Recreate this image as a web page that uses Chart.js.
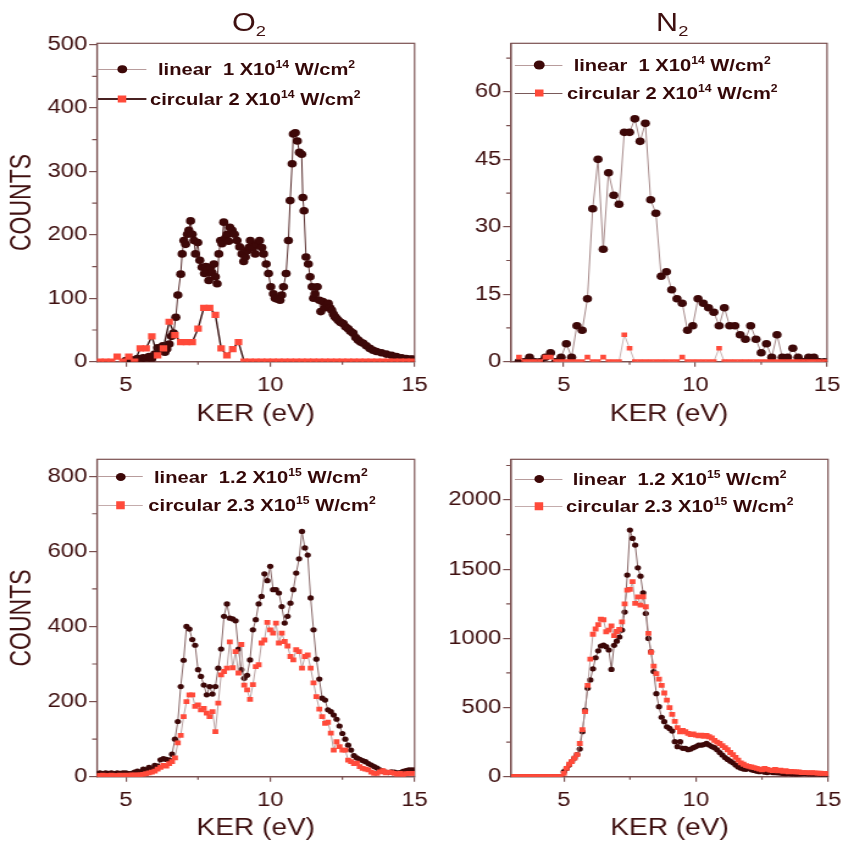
<!DOCTYPE html>
<html>
<head>
<meta charset="utf-8">
<script src="https://cdn.jsdelivr.net/npm/chart.js@4.4.1/dist/chart.umd.min.js"></script>
<style>
  html, body { margin: 0; padding: 0; background: #fff; }
  body { width: 844px; height: 846px; overflow: hidden; position: relative; font-family: "Liberation Sans", Arial, sans-serif; }
  /* the original figure is stretched sideways, so the whole page is drawn narrow and scaled */
  #fig { position: absolute; left: 0; top: 0; width: 692px; height: 846px; transform: scaleX(1.22); transform-origin: 0 0; }
  .panel { position: absolute; }
  .panel canvas { display: block; }
  .ttl { position: absolute; font-size: 25px; line-height: 1; color: #3f1010; transform: translate(-50%, -50%); white-space: nowrap; }
  .ttl sub { font-size: 15px; position: relative; top: 5px; vertical-align: baseline; }
  .sym { position: absolute; height: 0; }
  .mk { position: absolute; left: 50%; top: 50%; transform: translate(-50%, -50%); }
  .lt { position: absolute; font-weight: bold; font-size: 16.5px; line-height: 1; color: #340808; transform: translateY(-50%); white-space: nowrap; }
  .lt sup { font-size: 10px; position: relative; top: -7px; vertical-align: baseline; }
</style>
</head>
<body>
<div id="fig">
  <div class="panel" style="left:0;top:0"><canvas id="c1" width="360" height="430"></canvas></div>
  <div class="panel" style="left:346px;top:0"><canvas id="c2" width="346" height="430"></canvas></div>
  <div class="panel" style="left:0;top:430px"><canvas id="c3" width="360" height="416"></canvas></div>
  <div class="panel" style="left:346px;top:430px"><canvas id="c4" width="346" height="416"></canvas></div>
  <div class="ttl" style="left:204px;top:22px">O<sub>2</sub></div>
  <div class="ttl" style="left:551px;top:22px">N<sub>2</sub></div>
</div>
<script>
// ---------- data ----------
// O2, low intensity
const o2LinKer = [5.0,5.1,5.2,5.3,5.4,5.5,5.6,5.7,5.8,5.9,6.0,6.1,6.2,6.28,6.35,6.42,6.5,6.58,6.65,6.73,
  6.8,6.9,6.95,7.01,7.07,7.13,7.18,7.24,7.3,7.36,7.41,7.49,7.56,7.64,7.72,7.77,7.82,7.87,7.93,7.99,
  8.05,8.1,8.16,8.22,8.28,8.33,8.39,8.45,8.51,8.56,8.6,8.68,8.76,8.85,8.94,9.02,9.08,9.14,9.2,9.26,
  9.31,9.4,9.48,9.54,9.63,9.71,9.77,9.86,9.94,10.02,10.11,10.17,10.23,10.3,10.34,10.4,10.46,10.55,10.63,10.69,
  10.76,10.8,10.87,10.94,11.01,11.09,11.13,11.17,11.24,11.32,11.38,11.45,11.5,11.55,11.63,11.7,11.75,11.82,11.9,11.96,
  12.01,12.07,12.13,12.19,12.24,12.3,12.36,12.44,12.53,12.61,12.7,12.78,12.87,12.96,13.05,13.13,13.22,13.33,13.45,13.56,
  13.68,13.85,14.02,14.2,14.37,14.55,14.71,14.85,14.94];
const o2LinCounts = [2,0,3,2,5,3,6,4,8,5,12,22,18,25,15,20,28,40,45,70,
  105,138,170,191,185,201,207,222,201,191,170,188,160,149,139,150,144,128,149,140,
  154,134,123,170,191,186,220,195,201,190,212,207,201,191,181,170,158,165,175,180,
  191,180,170,185,191,180,170,154,139,118,107,100,99,100,97,105,118,139,191,254,
  312,359,361,348,330,327,259,238,165,154,134,118,100,107,118,97,79,95,85,90,
  92,85,81,75,71,68,65,62,60,55,52,48,45,38,34,31,29,25,21,18,
  16,14,12,10,8,6,5,4,4];
const o2CircKer = [4.1,4.3,4.5,4.7,4.9,5.1,5.3,5.5,5.7,5.9,6.1,6.3,6.5,6.7,6.9,7.1,7.3,7.5,7.7,7.9,
  8.1,8.3,8.5,8.7,8.9,9.1,9.3,9.5,9.7,9.9,10.1,10.3,10.5,10.7,10.9,11.1,11.3,11.5,11.7,11.9,
  12.1,12.3,12.5,12.7,12.9,13.1,13.3,13.5,13.7,13.9,14.1,14.3,14.5,14.7,14.9];
const o2CircCounts = [0,0,0,8,0,8,0,21,21,40,10,21,63,42,31,31,31,52,85,85,
  74,21,10,20,31,0,0,0,0,0,0,0,0,0,0,0,0,0,0,0,
  0,0,0,0,0,0,0,0,0,0,0,0,0,0,0];

// N2, low intensity (both series share the bins)
const n2LowKer = [3.3,3.5,3.7,3.9,4.1,4.3,4.5,4.7,4.9,5.1,5.3,5.5,5.7,5.9,6.1,6.3,6.5,6.7,6.9,7.1,
  7.3,7.5,7.7,7.9,8.1,8.3,8.5,8.7,8.9,9.1,9.3,9.5,9.7,9.9,10.1,10.3,10.5,10.7,10.9,11.1,
  11.3,11.5,11.7,11.9,12.1,12.3,12.5,12.7,12.9,13.1,13.3,13.5,13.7,13.9,14.1,14.3,14.5,14.7,14.9];
const n2LinCounts = [0,0,1,0,0,1,2,0,1,4,1,8,7,14,34,45,25,42,37,35,
  51,51,54,49,53,36,33,19,20,16,14,13,7,8,14,13,12,11,8,12,
  8,8,6,5,8,5,2,4,1,6,1,1,3,1,0,1,1,0,0];
const n2CircCounts = [1,0,0,0,0,1,1,0,0,0,0,0,0,1,0,0,1,0,0,0,
  6,3,0,0,0,0,0,0,0,0,0,1,0,0,0,0,0,0,3,0,
  0,0,0,0,0,0,0,0,0,0,0,0,0,0,0,0,0,0,0];

// O2, high intensity
const o2HighKer = [4.0,4.1,4.2,4.3,4.4,4.5,4.6,4.7,4.8,4.9,5.0,5.1,5.2,5.3,5.4,5.5,5.6,5.7,5.8,5.9,
  6.0,6.1,6.2,6.3,6.4,6.5,6.6,6.7,6.8,6.9,7.0,7.1,7.2,7.3,7.4,7.5,7.6,7.7,7.8,7.9,
  8.0,8.1,8.2,8.3,8.4,8.5,8.6,8.7,8.8,8.9,9.0,9.1,9.2,9.3,9.4,9.5,9.6,9.7,9.8,9.9,
  10.0,10.1,10.2,10.3,10.4,10.5,10.6,10.7,10.8,10.9,11.0,11.1,11.2,11.3,11.4,11.5,11.6,11.7,11.8,11.9,
  12.0,12.1,12.2,12.3,12.4,12.5,12.6,12.7,12.8,12.9,13.0,13.1,13.2,13.3,13.4,13.5,13.6,13.7,13.8,13.9,
  14.0,14.1,14.2,14.3,14.4,14.5,14.6,14.7,14.8,14.9,15.0];
const o2HighLinCounts = [8,10,8,10,9,10,8,10,9,10,10,8,9,12,15,12,20,18,25,20,
  30,28,45,48,46,44,60,100,147,240,310,400,393,365,350,285,267,244,218,240,
  220,240,289,340,427,460,422,420,415,340,285,262,270,311,391,418,460,480,540,522,
  560,498,498,489,453,409,427,462,498,542,580,653,609,590,476,391,313,260,209,204,
  178,173,164,153,135,115,100,84,71,56,50,46,43,40,35,31,27,23,18,15,
  12,11,13,12,10,11,14,16,18,18,18];
const o2HighCircCounts = [3,3,4,3,3,4,3,3,4,3,4,3,5,4,5,5,6,8,10,12,
  15,20,25,30,28,35,40,50,90,110,160,200,218,218,187,191,178,182,169,160,
  173,120,196,271,280,289,359,290,333,276,352,244,231,206,245,293,298,356,364,411,
  391,382,409,356,382,360,348,320,311,338,333,289,320,324,289,250,213,180,160,142,
  145,116,71,93,80,71,71,44,40,35,36,27,22,20,18,12,9,9,13,16,
  10,12,11,9,6,9,5,8,9,9,9];

// N2, high intensity
const n2HighKer = [3.0,3.1,3.2,3.3,3.4,3.5,3.6,3.7,3.8,3.9,4.0,4.1,4.2,4.3,4.4,4.5,4.6,4.7,4.8,4.9,
  5.0,5.1,5.2,5.3,5.4,5.5,5.6,5.7,5.8,5.9,6.0,6.1,6.2,6.3,6.4,6.5,6.6,6.7,6.8,6.9,
  7.0,7.1,7.2,7.3,7.4,7.5,7.6,7.7,7.8,7.9,8.0,8.1,8.2,8.3,8.4,8.5,8.6,8.7,8.8,8.9,
  9.0,9.1,9.2,9.3,9.4,9.5,9.6,9.7,9.8,9.9,10.0,10.1,10.2,10.3,10.4,10.5,10.6,10.7,10.8,10.9,
  11.0,11.1,11.2,11.3,11.4,11.5,11.6,11.7,11.8,11.9,12.0,12.1,12.2,12.3,12.4,12.5,12.6,12.7,12.8,12.9,
  13.0,13.1,13.2,13.3,13.4,13.5,13.6,13.7,13.8,13.9,14.0,14.1,14.2,14.3,14.4,14.5,14.6,14.7,14.8,14.9,15.0];
const n2HighLinCounts = [0,0,0,0,0,0,0,0,0,0,0,0,0,0,0,0,0,0,0,0,
  36,60,84,110,135,160,200,325,482,640,700,780,860,910,945,952,940,916,776,950,
  980,1010,1060,1190,1458,1783,1723,1675,1510,1450,1330,1180,1000,904,760,600,506,430,398,361,
  349,330,253,217,253,205,205,195,200,210,218,229,228,232,241,229,218,210,195,175,
  157,138,125,112,100,84,70,62,55,53,60,50,45,40,36,43,32,30,36,30,
  29,28,26,24,22,24,21,20,19,20,22,24,22,20,19,19,20,18,19,19,18];
const n2HighCircCounts = [0,0,0,0,0,0,0,0,0,0,0,0,0,0,0,0,0,0,0,0,
  24,60,90,110,135,160,240,340,470,660,850,1030,1068,1100,1140,1135,1048,1060,1090,1020,
  1050,1065,1120,1250,1349,1354,1410,1253,1300,1240,1301,1229,1036,900,800,745,705,660,605,554,
  500,450,400,355,325,335,325,313,305,310,301,295,300,292,298,289,280,262,250,240,
  225,210,195,175,160,140,120,100,90,80,74,70,65,60,55,50,60,53,48,45,
  53,43,48,38,43,36,38,36,35,34,30,30,29,28,29,28,26,25,24,24,22];

// tick labels
const kerTicks = [5, 10, 15];
const kerMinor = [7.5, 12.5];
const o2LowTicks = [0, 100, 200, 300, 400, 500];
const o2LowMinor = [50, 150, 250, 350, 450];
const n2LowTicks = [0, 15, 30, 45, 60];
const n2LowMinor = [7.5, 22.5, 37.5, 52.5, 67.5];
const o2HighTicks = [0, 200, 400, 600, 800];
const o2HighMinor = [100, 300, 500, 700];
const n2HighTicks = [0, 500, 1000, 1500, 2000];
const n2HighMinor = [250, 750, 1250, 1750, 2250];

// legend texts
const legLow = ['linear&nbsp; 1 X10<sup>14</sup> W/cm<sup>2</sup>', 'circular 2 X10<sup>14</sup> W/cm<sup>2</sup>'];
const legHigh = ['linear&nbsp; 1.2 X10<sup>15</sup> W/cm<sup>2</sup>', 'circular 2.3 X10<sup>15</sup> W/cm<sup>2</sup>'];

// ---------- styling ----------
const family = '"Liberation Sans", Arial, sans-serif';
const axisColor = '#7a5050';
const textColor = '#3f1010';
const darkDot = '#3d0808';
const redSq = '#ff4a3a';

const pts = (xs, ys) => xs.map((x, i) => ({ x: x, y: ys[i] }));

// draws the closed frame and the small minor ticks
const axisFrame = {
  id: 'axisFrame',
  beforeDatasetsDraw(chart, args, opts) {
    const { ctx, chartArea: a, scales: { x, y } } = chart;
    ctx.save();
    ctx.strokeStyle = axisColor;
    ctx.lineWidth = 1.2;
    ctx.strokeRect(a.left, a.top, a.right - a.left, a.bottom - a.top);
    ctx.beginPath();
    opts.xMinor.forEach(v => {
      const px = x.getPixelForValue(v);
      ctx.moveTo(px, a.bottom); ctx.lineTo(px, a.bottom + 3);
    });
    opts.yMinor.forEach(v => {
      const py = y.getPixelForValue(v);
      ctx.moveTo(a.left, py); ctx.lineTo(a.left - 4, py);
    });
    ctx.stroke();
    ctx.restore();
  }
};

function makeChart(p) {
  const ctx = document.getElementById(p.id).getContext('2d');
  return new Chart(ctx, {
    type: 'line',
    data: { datasets: p.datasets },
    options: {
      responsive: false,
      animation: false,
      events: [],
      layout: { autoPadding: false, padding: { left: 0, top: p.area.t, right: p.w - p.area.r, bottom: 0 } },
      plugins: {
        legend: { display: false },
        tooltip: { enabled: false },
        axisFrame: { xMinor: kerMinor, yMinor: p.yMinor }
      },
      scales: {
        x: {
          type: 'linear', min: p.xMin, max: p.xMax,
          afterBuildTicks: s => { s.ticks = kerTicks.map(v => ({ value: v })); },
          afterFit: s => { s.height = p.h - p.area.b; s.paddingLeft = 0; s.paddingRight = 0; },
          ticks: { color: textColor, font: { size: 19.5, family }, padding: 7, maxRotation: 0, autoSkip: false, callback: v => String(v) },
          grid: { drawOnChartArea: false, tickLength: 5, color: axisColor, lineWidth: 1.2 },
          border: { color: axisColor, width: 1.3 },
          title: { display: true, text: 'KER (eV)', color: textColor, font: { size: 23, family }, padding: { top: 0, bottom: p.xTitlePad } }
        },
        y: {
          type: 'linear', min: 0, max: p.yMax,
          afterBuildTicks: s => { s.ticks = p.yTicks.map(v => ({ value: v })); },
          afterFit: s => { s.width = p.area.l; s.paddingTop = 0; s.paddingBottom = 0; },
          ticks: { color: textColor, font: { size: 19.5, family }, padding: 1.5, autoSkip: false, callback: v => String(v) },
          grid: { drawOnChartArea: false, tickLength: 6.5, color: axisColor, lineWidth: 1.2 },
          border: { color: axisColor, width: 1.2 },
          title: { display: p.yTitle, text: 'COUNTS', color: textColor, font: { size: 23, family }, padding: { top: 5, bottom: 0 } }
        }
      }
    },
    plugins: [axisFrame]
  });
}

const linSet = (label, data, line, r) => ({
  label, data, borderColor: line, borderWidth: 1, tension: 0,
  pointStyle: 'circle', pointRadius: r, pointBackgroundColor: darkDot, pointBorderWidth: 0, order: 2
});
const circSet = (label, data, line, lw, r) => ({
  label, data, borderColor: line, borderWidth: lw, tension: 0,
  pointStyle: 'rect', pointRadius: r, pointBackgroundColor: redSq, pointBorderWidth: 0, order: 1
});

makeChart({
  id: 'c1', w: 360, h: 430, area: { l: 79.5, r: 339.8, t: 43.3, b: 361.7 },
  xMin: 4, xMax: 15, yMax: 502, yTicks: o2LowTicks, yMinor: o2LowMinor, yTitle: true, xTitlePad: 1.7,
  datasets: [
    linSet('linear 1 X10¹⁴ W/cm²', pts(o2LinKer, o2LinCounts), '#5a3030', 3.8),
    circSet('circular 2 X10¹⁴ W/cm²', pts(o2CircKer, o2CircCounts), '#3a1414', 1.4, 4.4)
  ]
});
makeChart({
  id: 'c2', w: 346, h: 430, area: { l: 72.9, r: 331.9, t: 43.3, b: 361.7 },
  xMin: 3, xMax: 15, yMax: 70.8, yTicks: n2LowTicks, yMinor: n2LowMinor, yTitle: false, xTitlePad: 1.7,
  datasets: [
    linSet('linear 1 X10¹⁴ W/cm²', pts(n2LowKer, n2LinCounts), '#a88c8c', 3.8),
    circSet('circular 2 X10¹⁴ W/cm²', pts(n2LowKer, n2CircCounts), '#c8b4b4', 1, 3.3)
  ]
});
makeChart({
  id: 'c3', w: 360, h: 416, area: { l: 79.5, r: 339.8, t: 29.3, b: 346.7 },
  xMin: 4, xMax: 15, yMax: 845, yTicks: o2HighTicks, yMinor: o2HighMinor, yTitle: true, xTitlePad: 3.6,
  datasets: [
    linSet('linear 1.2 X10¹⁵ W/cm²', pts(o2HighKer, o2HighLinCounts), '#8a6a6a', 2.6),
    circSet('circular 2.3 X10¹⁵ W/cm²', pts(o2HighKer, o2HighCircCounts), '#a88c8c', 0.8, 3.4)
  ]
});
makeChart({
  id: 'c4', w: 346, h: 416, area: { l: 72.9, r: 332.7, t: 29.3, b: 346.7 },
  xMin: 3, xMax: 15, yMax: 2295, yTicks: n2HighTicks, yMinor: n2HighMinor, yTitle: false, xTitlePad: 3.6,
  datasets: [
    linSet('linear 1.2 X10¹⁵ W/cm²', pts(n2HighKer, n2HighLinCounts), '#8a6a6a', 2.6),
    circSet('circular 2.3 X10¹⁵ W/cm²', pts(n2HighKer, n2HighCircCounts), '#a88c8c', 0.8, 3.4)
  ]
});

// ---------- legends (html so the exponents stay real superscripts) ----------
const legendRows = [
  { x: 80.3, w: 40, y: 69, line: '#b89c9c', lw: 1, mark: 'dot', ms: 7.5, tx: 129.5, text: legLow[0] },
  { x: 80.3, w: 40, y: 99, line: '#4a2222', lw: 2, mark: 'sq', ms: 7, tx: 123, text: legLow[1] },
  { x: 422, w: 39, y: 65, line: '#b89c9c', lw: 1, mark: 'dot', ms: 9, tx: 470.2, text: legLow[0] },
  { x: 422, w: 39, y: 93.3, line: '#7a5a5a', lw: 1.5, mark: 'sq', ms: 7, tx: 464.8, text: legLow[1] },
  { x: 80.3, w: 37, y: 476.7, line: '#b89c9c', lw: 1, mark: 'dot', ms: 8, tx: 126.2, text: legHigh[0] },
  { x: 80.3, w: 37, y: 505, line: '#c4acac', lw: 1, mark: 'sq', ms: 7.5, tx: 121.6, text: legHigh[1] },
  { x: 422, w: 39, y: 479.3, line: '#b89c9c', lw: 1, mark: 'dot', ms: 8, tx: 469.4, text: legHigh[0] },
  { x: 422, w: 39, y: 506, line: '#c4acac', lw: 1, mark: 'sq', ms: 7.5, tx: 464, text: legHigh[1] }
];
const fig = document.getElementById('fig');
legendRows.forEach(r => {
  const sym = document.createElement('div');
  sym.className = 'sym';
  sym.style.cssText = `left:${r.x}px;top:${r.y - r.lw / 2}px;width:${r.w}px;border-top:${r.lw}px solid ${r.line};`;
  const mk = document.createElement('div');
  mk.className = 'mk';
  mk.style.cssText += `width:${r.ms}px;height:${r.ms}px;background:${r.mark === 'dot' ? darkDot : redSq};` +
    (r.mark === 'dot' ? 'border-radius:50%;' : '') + `margin-top:${-r.lw / 2}px;`;
  sym.appendChild(mk);
  fig.appendChild(sym);
  const t = document.createElement('div');
  t.className = 'lt';
  t.style.left = r.tx + 'px';
  t.style.top = r.y + 'px';
  t.innerHTML = r.text;
  fig.appendChild(t);
});
</script>
</body>
</html>
